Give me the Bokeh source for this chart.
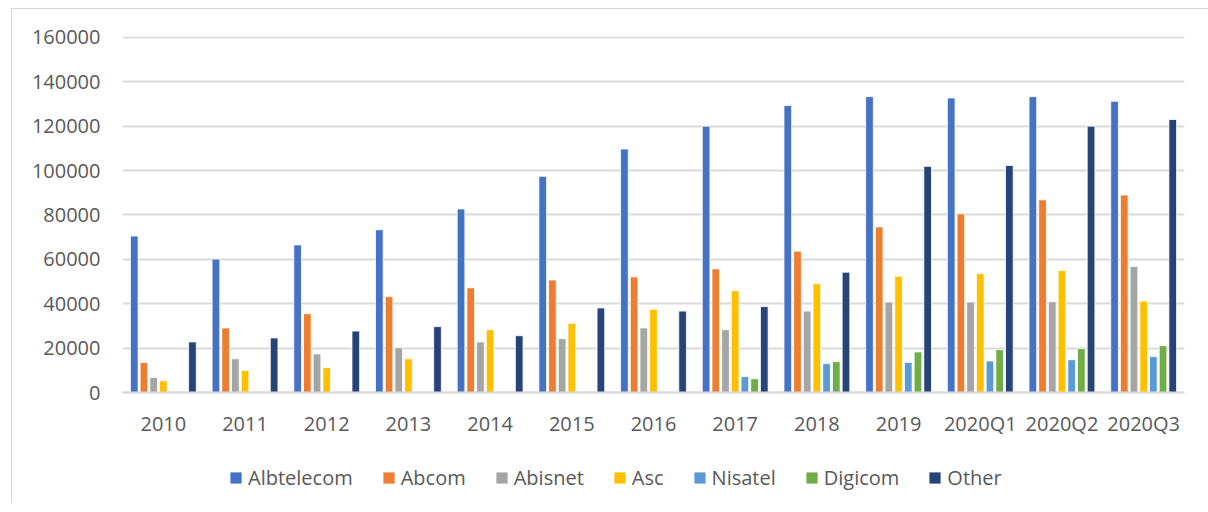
from bokeh.plotting import figure
from bokeh.models import FactorRange, Range1d, FixedTicker, BasicTickFormatter, Legend, LegendItem, ColumnDataSource
from bokeh.transform import dodge
from bokeh.embed import file_html
from bokeh.resources import INLINE

nan = float("nan")

categories = ["2010", "2011", "2012", "2013", "2014", "2015", "2016", "2017", "2018", "2019", "2020Q1", "2020Q2", "2020Q3"]
series_names = ["Albtelecom", "Abcom", "Abisnet", "Asc", "Nisatel", "Digicom", "Other"]
y_ticks = [0, 20000, 40000, 60000, 80000, 100000, 120000, 140000, 160000]

albtelecom = [70500, 60100, 66500, 73300, 82700, 97400, 109700, 120000, 129300, 133300, 132700, 133300, 131200]
abcom = [13500, 29100, 35500, 43200, 47200, 50700, 52100, 55700, 63700, 74600, 80500, 86800, 89000]
abisnet = [6800, 15200, 17400, 20200, 22800, 24300, 29100, 28300, 36700, 40800, 40800, 40900, 56800]
asc = [5300, 9900, 11200, 15200, 28300, 31200, 37500, 45900, 49000, 52400, 53600, 55000, 41200]
nisatel = [nan, nan, nan, nan, nan, nan, nan, 7200, 13000, 13600, 14200, 14800, 16200]
digicom = [nan, nan, nan, nan, nan, nan, nan, 6200, 13900, 18300, 19300, 19800, 21100]
other = [22800, 24600, 27700, 29700, 25600, 38100, 36700, 38700, 54200, 101900, 102300, 120000, 123000]

colors = ["#4472C4", "#ED7D31", "#A5A5A5", "#FFC000", "#5B9BD5", "#70AD47", "#264478"]

data = dict(cat=categories, Albtelecom=albtelecom, Abcom=abcom, Abisnet=abisnet, Asc=asc,
            Nisatel=nisatel, Digicom=digicom, Other=other)
source = ColumnDataSource(data)

FONT = "Open Sans"
TXT = "#595959"
GRID = "#D9D9D9"

# frame extends below zero to leave room for the category labels and the legend
p = figure(x_range=FactorRange(factors=categories, range_padding=0), y_range=Range1d(-50000, 160400),
           frame_width=1062, frame_height=467, min_border_left=110, min_border_top=27,
           min_border_right=25, min_border_bottom=0,
           output_backend="svg", toolbar_location=None, outline_line_color=None)
p.margin = (8, 0, 0, 11)
p.styles = {"border-left": "1px solid #D4D4D4", "border-top": "1px solid #D4D4D4"}

slot = 0.1187
renderers = []
for i, (name, col) in enumerate(zip(series_names, colors)):
    r = p.vbar(x=dodge("cat", (i - 3) * slot, range=p.x_range), top=name, bottom=0, width=0.094,
               source=source, fill_color=col, line_color="white", line_width=0.8)
    renderers.append(r)

p.yaxis.ticker = FixedTicker(ticks=y_ticks)
p.yaxis.formatter = BasicTickFormatter(use_scientific=False)
p.yaxis.axis_line_color = None
p.yaxis.major_tick_line_color = None
p.yaxis.minor_tick_line_color = None
p.yaxis.major_label_standoff = 16
p.xaxis.fixed_location = 0
p.xaxis.axis_line_color = GRID
p.xaxis.axis_line_width = 2
p.xaxis.major_tick_line_color = None
p.xaxis.minor_tick_line_color = None
p.xaxis.major_label_standoff = 11
for ax in (p.xaxis, p.yaxis):
    ax.major_label_text_font = FONT
    ax.major_label_text_font_size = "20px"
    ax.major_label_text_color = TXT

p.xgrid.grid_line_color = None
p.ygrid.grid_line_color = GRID
p.ygrid.grid_line_width = 2
p.ygrid.ticker = FixedTicker(ticks=y_ticks)

legend = Legend(items=[LegendItem(label=n, renderers=[r]) for n, r in zip(series_names, renderers)],
                orientation="horizontal", location=(106, 12), border_line_color=None,
                background_fill_alpha=0,
                label_text_font=FONT, label_text_font_size="20px", label_text_color=TXT,
                glyph_width=15, glyph_height=15, label_standoff=5, spacing=28,
                padding=6, margin=0)
p.add_layout(legend, "center")

open("out.html", "w").write(file_html(p, INLINE))
